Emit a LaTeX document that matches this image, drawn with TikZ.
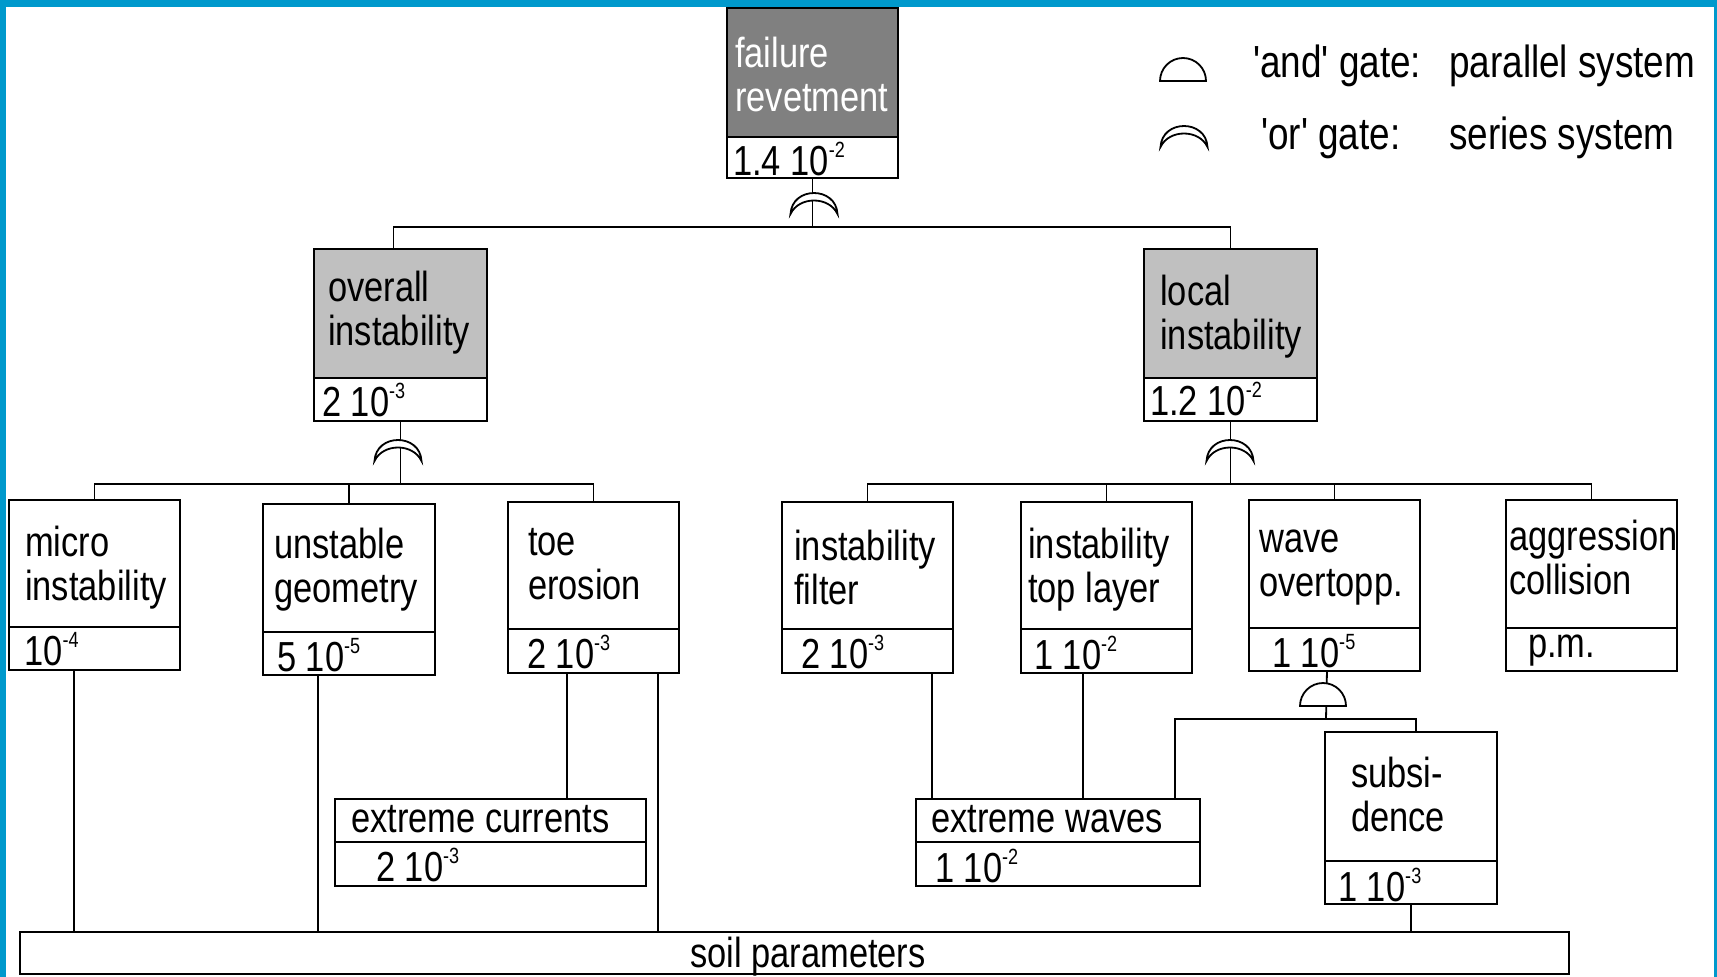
\documentclass[tikz,border=0pt]{standalone}
\usepackage{fontspec}
\setmainfont{Liberation Sans}[FakeStretch=0.82, Ligatures=TeXOff]
\usetikzlibrary{calc}
\definecolor{frameblue}{RGB}{0,153,204}
\definecolor{darkbox}{RGB}{128,128,128}
\definecolor{lightbox}{RGB}{192,192,192}
\newcommand\sps[1]{\raisebox{18pt}{\fontsize{22}{22}\selectfont #1}}
\newcommand\twoline[2]{\vtop{\hbox{#1}\hbox{#2}}}
\newcommand\boxpair[7]{%
 \node[boxst, fill=#7, minimum width={#3-#2}, minimum height={#5-#4}] (#1) at ({(#2+#3)/2},{(#4+#5)/2}) {};
 \node[boxst, fill=white, minimum width={#3-#2}, minimum height={#6-#5}] (#1v) at ({(#2+#3)/2},{(#5+#6)/2}) {};}
\newcommand\orgate[2]{\draw[gatest] ({#1-23.5},{#2+23}) .. controls ({#1-22},{#2-5}) and ({#1+22},{#2-5}) .. ({#1+23.5},{#2+23}) .. controls ({#1+15},{#2+5}) and ({#1-15},{#2+5}) .. cycle;}
\newcommand\andgate[2]{\draw[gatest] ({#1-23},{#2+23}) .. controls ({#1-23},{#2+10.3}) and ({#1-12.7},{#2}) .. ({#1},{#2}) .. controls ({#1+12.7},{#2}) and ({#1+23},{#2+10.3}) .. ({#1+23},{#2+23}) -- cycle;}
\tikzset{
 boxst/.style={draw, line width=2pt, inner sep=0pt, outer sep=0pt, rectangle},
 lbl/.style={inner sep=0pt, anchor=base west, font=\fontsize{42}{44}\selectfont},
 leg/.style={lbl, font=\fontsize{45}{47}\selectfont},
 wire/.style={line width=1.8pt},
 gatest/.style={line width=1.8pt, fill=white}
}
\begin{document}
\begin{tikzpicture}[x=1pt, y=-1pt]
\useasboundingbox (0,0) rectangle (1717,977);
\fill[frameblue] (0,0) rectangle (1717,977);
\fill[white] (6,7) rectangle (1714,977);

% boxes
\boxpair{top}{727}{898}{8}{137}{178}{darkbox}
\boxpair{ovr}{314}{487}{249}{378}{421}{lightbox}
\boxpair{loc}{1144}{1317}{249}{378}{421}{lightbox}
\boxpair{micro}{9}{180}{500}{627}{670}{white}
\boxpair{unst}{263}{435}{504}{632}{675}{white}
\boxpair{toe}{508}{679}{502}{629}{673}{white}
\boxpair{filt}{782}{953}{502}{629}{673}{white}
\boxpair{topl}{1021}{1192}{502}{629}{673}{white}
\boxpair{wave}{1249}{1420}{500}{628}{671}{white}
\boxpair{aggr}{1506}{1677}{500}{628}{671}{white}
\boxpair{curr}{335}{646}{799}{842}{886}{white}
\boxpair{xwav}{916}{1200}{799}{842}{886}{white}
\boxpair{subs}{1325}{1497}{732}{861}{904}{white}
\node[boxst, minimum width=1549.5, minimum height=42] (soil) at (794.25,953) {};

% labels
\node[lbl, text=white] (ttop) at (735,67) {\twoline{failure}{revetment}};
\node[lbl] (vtop) at (733,175) {1.4 10\sps{-2}};
\node[lbl] (tovr) at (328,301) {\twoline{overall}{instability}};
\node[lbl] (vovr) at (322,416) {2 10\sps{-3}};
\node[lbl] (tloc) at (1160,305) {\twoline{local}{instability}};
\node[lbl] (vloc) at (1150,415) {1.2 10\sps{-2}};
\node[lbl] (tmic) at (25,556) {\twoline{micro}{instability}};
\node[lbl] (vmic) at (24,665) {10\sps{-4}};
\node[lbl] (tuns) at (274,558) {\twoline{unstable}{geometry}};
\node[lbl] (vuns) at (277,671) {5 10\sps{-5}};
\node[lbl] (ttoe) at (528,555) {\twoline{toe}{erosion}};
\node[lbl] (vtoe) at (527,668) {2 10\sps{-3}};
\node[lbl] (tfil) at (794,560) {\twoline{instability}{filter}};
\node[lbl] (vfil) at (801,668) {2 10\sps{-3}};
\node[lbl] (ttpl) at (1028,558) {\twoline{instability}{top layer}};
\node[lbl] (vtpl) at (1034,669) {1 10\sps{-2}};
\node[lbl] (twav) at (1259,552) {\twoline{wave}{overtopp.}};
\node[lbl] (vwav) at (1272,667) {1 10\sps{-5}};
\node[lbl] (tagg) at (1509,550) {\twoline{aggression}{collision}};
\node[lbl] (vagg) at (1528,657) {p.m.};
\node[lbl] (tcur) at (351,832) {extreme currents};
\node[lbl] (vcur) at (376,881) {2 10\sps{-3}};
\node[lbl] (txwv) at (931,832) {extreme waves};
\node[lbl] (vxwv) at (935,882) {1 10\sps{-2}};
\node[lbl] (tsub) at (1351,787) {\twoline{subsi-}{dence}};
\node[lbl] (vsub) at (1338,901) {1 10\sps{-3}};
\node[lbl] (tsoil) at (690,967) {soil parameters};

% legend
\andgate{1183}{58}
\orgate{1184}{124}
\node[leg] (l1) at (1253,77) {'and' gate:};
\node[leg] (l2) at (1449,77) {parallel system};
\node[leg] (l3) at (1261,149) {'or' gate:};
\node[leg] (l4) at (1449,149) {series system};

% connectors level 1
\coordinate (j1) at (812.5,227);
\coordinate (o1) at ($(ovr.north west)!0.46!(ovr.north east)$);
\draw[wire] (topv.south) -- (j1);
\draw[wire] (o1) |- (j1) -| (loc.north);
\orgate{814}{191}

% level 2 left
\coordinate (j2) at (400.5,484);
\draw[wire] (ovrv.south) -- (j2);
\draw[wire] (micro.north) |- (j2) -| (toe.north);
\draw[wire] (unst.north) -- (unst.north |- j2);
\orgate{398}{438}

% level 2 right
\coordinate (j3) at (1230.5,484);
\draw[wire] (locv.south) -- (j3);
\draw[wire] (filt.north) |- (j3) -| (aggr.north);
\draw[wire] (topl.north) -- (topl.north |- j3);
\draw[wire] (wave.north) -- (wave.north |- j3);
\orgate{1230}{438}

% bottom connectors
\coordinate (m1) at ($(microv.south west)!0.38!(microv.south east)$);
\draw[wire] (m1) -- (m1 |- soil.north);
\coordinate (u1) at ($(unstv.south west)!0.32!(unstv.south east)$);
\draw[wire] (u1) -- (u1 |- soil.north);
\coordinate (t1) at ($(toev.south west)!0.345!(toev.south east)$);
\draw[wire] (t1) -- (t1 |- curr.north);
\coordinate (t2) at ($(toev.south west)!0.877!(toev.south east)$);
\draw[wire] (t2) -- (t2 |- soil.north);
\coordinate (f1) at ($(filtv.south west)!0.877!(filtv.south east)$);
\draw[wire] (f1) -- (f1 |- xwav.north);
\coordinate (p1) at ($(toplv.south west)!0.363!(toplv.south east)$);
\draw[wire] (p1) -- (p1 |- xwav.north);
\draw[wire] (subsv.south) -- (subsv.south |- soil.north);

% and gate below wave overtopping
\coordinate (w1) at ($(wavev.south west)!0.456!(wavev.south east)$);
\coordinate (j4) at (1326,719);
\coordinate (e1) at ($(xwav.north west)!0.912!(xwav.north east)$);
\coordinate (s1) at ($(subs.north west)!0.53!(subs.north east)$);
\draw[wire] (w1) -- (j4);
\draw[wire] (e1) |- (j4) -| (s1);
\andgate{1323}{683}
\end{tikzpicture}
\end{document}
